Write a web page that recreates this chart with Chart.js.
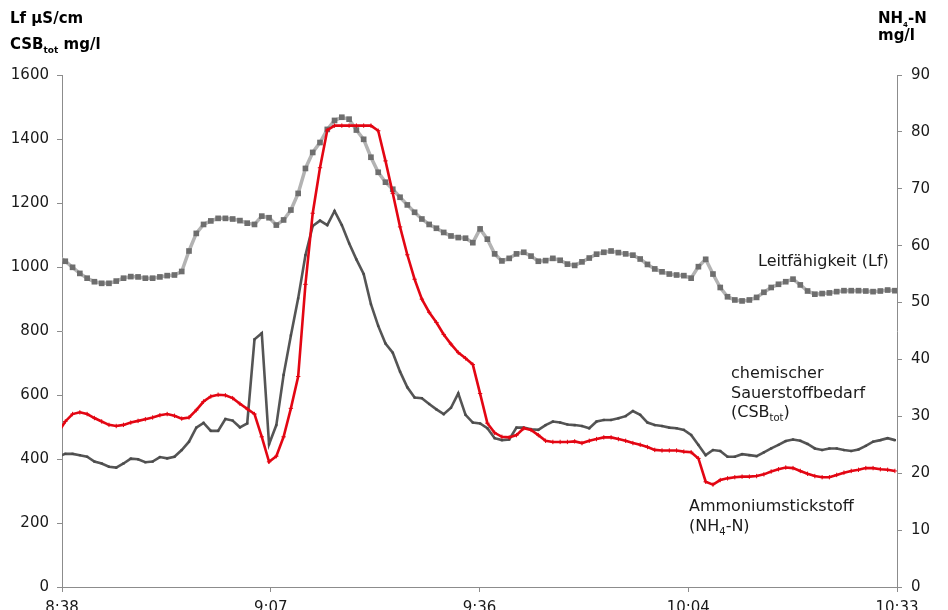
<!DOCTYPE html>
<html>
<head>
<meta charset="utf-8">
<script src="https://cdn.jsdelivr.net/npm/chart.js@4.4.1/dist/chart.umd.min.js"></script>
<style>
  html, body { margin: 0; padding: 0; background: #fff; overflow: hidden; }
  #wrap { position: relative; width: 948px; height: 630px; }
  .txt { position: absolute; font-family: 'DejaVu Sans', sans-serif; color: #1a1a1a; white-space: nowrap; }
  .head { font-size: 15px; font-weight: bold; line-height: 15px; color: #000; }
  .note { font-size: 16px; line-height: 19.5px; }
  .head sub { font-size: 9px; vertical-align: -4px; line-height: 0; }
  .note sub { font-size: 10px; vertical-align: -4px; line-height: 0; }
</style>
</head>
<body>
<div id="wrap">
  <canvas id="chart"></canvas>
  <div class="txt head" style="left:10px;top:11px">Lf µS/cm</div>
  <div class="txt head" style="left:10px;top:37px">CSB<sub>tot</sub> mg/l</div>
  <div class="txt head" style="left:878px;top:11px">NH<sub style="font-size:7px">4</sub>-N</div>
  <div class="txt head" style="left:878px;top:28px">mg/l</div>
  <div class="txt note" style="left:758px;top:251px">Leitfähigkeit (Lf)</div>
  <div class="txt note" style="left:731px;top:363px">chemischer<br>Sauerstoffbedarf<br>(CSB<sub>tot</sub>)</div>
  <div class="txt note" style="left:689px;top:496px">Ammoniumstickstoff<br>(NH<sub>4</sub>-N)</div>
</div>
<script>
// x axis: minutes after 8:38, Excel date axis with a major unit of 0.02 days
const tickMinutes = [0, 28.8, 57.6, 86.4, 115.2];
const tickLabels = ['8:38', '9:07', '9:36', '10:04', '10:33'];

// one reading per minute, first one just left of the axis (clipped)
const sampleStart = -0.55;
const sampleStep = 1.004;

// Leitfähigkeit, µS/cm (left axis)
const lfValues = [1033,
  1018, 999, 980, 965, 954, 949, 949, 956, 965, 970,
  969, 965, 965, 969, 973, 975, 986, 1050, 1105, 1133,
  1144, 1152, 1152, 1150, 1145, 1137, 1133, 1159, 1154, 1131,
  1147, 1178, 1230, 1308, 1358, 1389, 1430, 1458, 1468, 1462,
  1428, 1399, 1343, 1296, 1265, 1243, 1218, 1194, 1171, 1150,
  1133, 1121, 1108, 1097, 1092, 1090, 1076, 1119, 1087, 1041,
  1019, 1027, 1041, 1046, 1034, 1018, 1020, 1027, 1021, 1009,
  1005, 1016, 1028, 1040, 1046, 1050, 1045, 1041, 1037, 1025,
  1008, 994, 985, 978, 975, 973, 965, 1001, 1024, 978,
  936, 907, 897, 894, 897, 905, 921, 936, 946, 954,
  962, 944, 925, 915, 917, 919, 923, 926, 926, 926,
  925, 923, 925, 928, 926];

// CSB tot, mg/l (left axis)
const csbValues = [408,
  416, 416, 412, 407, 392, 386, 376, 373, 386, 401,
  399, 390, 392, 406, 402, 407, 428, 454, 498, 513,
  488, 488, 525, 520, 499, 511, 774, 793, 446, 506,
  663, 786, 902, 1037, 1128, 1145, 1131, 1175, 1131, 1074,
  1024, 978, 884, 816, 761, 732, 673, 624, 592, 590,
  572, 555, 540, 560, 605, 538, 514, 511, 496, 465,
  459, 461, 498, 498, 493, 491, 506, 517, 514, 508,
  506, 503, 496, 517, 522, 522, 527, 534, 550, 538,
  514, 506, 503, 498, 496, 491, 475, 444, 412, 428,
  425, 407, 407, 415, 412, 409, 421, 433, 444, 456,
  461, 457, 447, 433, 428, 433, 433, 428, 425, 430,
  441, 454, 459, 465, 459];

// NH4-N, mg/l (right axis)
const nh4Values = [27.1,
  29.1, 30.4, 30.7, 30.4, 29.7, 29.1, 28.5, 28.3, 28.5, 28.9,
  29.2, 29.5, 29.8, 30.2, 30.4, 30.1, 29.6, 29.8, 31.1, 32.6,
  33.5, 33.8, 33.7, 33.2, 32.2, 31.3, 30.4, 26.4, 22.0, 23.0,
  26.4, 31.4, 37.0, 53.2, 65.7, 73.7, 80.3, 81.1, 81.1, 81.1,
  81.1, 81.1, 81.1, 80.2, 74.9, 69.2, 63.3, 58.4, 54.1, 50.6,
  48.3, 46.5, 44.4, 42.7, 41.2, 40.2, 39.1, 34.0, 28.8, 27.1,
  26.4, 26.3, 26.7, 27.9, 27.6, 26.7, 25.7, 25.5, 25.5, 25.5,
  25.6, 25.3, 25.7, 26.0, 26.3, 26.3, 26.0, 25.7, 25.3, 25.0,
  24.6, 24.1, 24.0, 24.0, 24.0, 23.8, 23.7, 22.6, 18.5, 18.0,
  18.8, 19.1, 19.3, 19.4, 19.4, 19.5, 19.8, 20.3, 20.7, 21.0,
  20.9, 20.4, 19.9, 19.5, 19.3, 19.3, 19.7, 20.1, 20.4, 20.6,
  20.9, 20.9, 20.7, 20.6, 20.4];

const sampleMinutes = lfValues.map((_, i) => sampleStart + i * sampleStep);

function toPoints(values) {
  return values.map((v, i) => ({ x: sampleMinutes[i], y: v }));
}

const axisGray = '#8c8c8c';
const tickFont = { family: 'DejaVu Sans', size: 15 };

Chart.defaults.font.family = 'DejaVu Sans';

const ctx = document.getElementById('chart').getContext('2d');
new Chart(ctx, {
  type: 'line',
  data: {
    datasets: [{
      label: 'Ammoniumstickstoff (NH4-N)',
      data: toPoints(nh4Values),
      yAxisID: 'yN',
      borderColor: '#e30613',
      borderWidth: 2.6,
      pointStyle: 'cross',
      pointRadius: 2.2,
      pointBorderColor: '#e30613',
      pointBorderWidth: 1,
      order: 0
    }, {
      label: 'chemischer Sauerstoffbedarf (CSBtot)',
      data: toPoints(csbValues),
      yAxisID: 'y',
      borderColor: '#555555',
      borderWidth: 2.6,
      pointStyle: 'rect',
      pointRadius: 1.6,
      pointBackgroundColor: '#4a4a4a',
      pointBorderWidth: 0,
      order: 1
    }, {
      label: 'Leitfähigkeit (Lf)',
      data: toPoints(lfValues),
      yAxisID: 'y',
      borderColor: '#b3b3b3',
      borderWidth: 3.5,
      pointStyle: 'rect',
      pointRadius: 4,
      pointBackgroundColor: '#6e6e6e',
      pointBorderWidth: 0,
      order: 2
    }]
  },
  options: {
    animation: false,
    responsive: true,
    maintainAspectRatio: false,
    layout: { padding: { top: 75, left: 0, right: 0, bottom: 0 } },
    datasets: { line: { clip: 0, tension: 0 } },
    plugins: {
      legend: { display: false },
      tooltip: { enabled: false }
    },
    scales: {
      x: {
        type: 'linear',
        min: 0,
        max: 115.2,
        afterBuildTicks: (scale) => { scale.ticks = tickMinutes.map(v => ({ value: v })); },
        afterFit: (scale) => { scale.height = 43; },
        grid: { drawOnChartArea: false, drawTicks: true, tickLength: 5, color: axisGray },
        border: { display: true, color: axisGray, width: 1 },
        ticks: {
          autoSkip: false,
          maxRotation: 0,
          padding: 7,
          color: '#1a1a1a',
          font: tickFont,
          callback: (value, index) => tickLabels[index]
        }
      },
      y: {
        position: 'left',
        min: 0,
        max: 1600,
        afterFit: (scale) => { scale.width = 62; },
        grid: { drawOnChartArea: false, drawTicks: true, tickLength: 5, color: axisGray },
        border: { display: true, color: axisGray, width: 1 },
        ticks: { stepSize: 200, padding: 8, color: '#1a1a1a', font: tickFont, callback: (v) => String(v) }
      },
      yN: {
        position: 'right',
        min: 0,
        max: 90,
        afterFit: (scale) => { scale.width = 51; },
        grid: { drawOnChartArea: false, drawTicks: true, tickLength: 5, color: axisGray },
        border: { display: true, color: axisGray, width: 1 },
        ticks: { stepSize: 10, padding: 9, color: '#1a1a1a', font: tickFont, callback: (v) => String(v) }
      }
    }
  }
});
</script>
</body>
</html>
